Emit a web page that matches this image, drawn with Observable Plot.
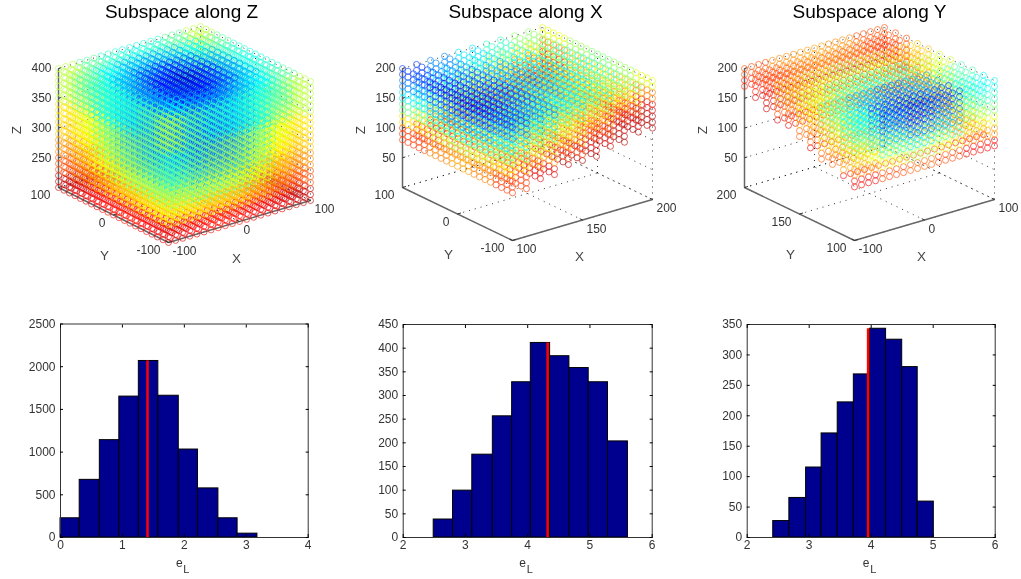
<!DOCTYPE html>
<html>
<head>
<meta charset="utf-8">
<style>
html,body{margin:0;padding:0;background:#fff;width:1021px;height:579px;overflow:hidden}
#page{position:relative;width:1021px;height:579px}
#page svg{position:absolute;display:block;background:transparent;filter:blur(0.35px)}
</style>
<script src="https://cdn.jsdelivr.net/npm/d3@7"></script>
<script src="https://cdn.jsdelivr.net/npm/@observablehq/plot@0.6"></script>
</head>
<body>
<div id="page"></div>
<script>
// ---------- histogram data (bottom row) ----------
const edgesZ = [0,0.31,0.635,0.95,1.265,1.58,1.91,2.22,2.55,2.86,3.18];
const countsZ = [225,675,1140,1650,2067,1660,1030,575,225,45];
const medianZ = 1.405;
const edgesX = [2.49,2.80,3.11,3.44,3.75,4.05,4.36,4.67,4.98,5.29,5.61];
const countsX = [38,99,175,256,328,411,383,358,328,203];
const medianX = 4.32;
const edgesY = [2.42,2.68,2.95,3.2,3.46,3.72,3.98,4.24,4.5,4.75,5.01];
const countsY = [27,65,115,171,222,268,343,325,280,59];
const medianY = 3.95;

// ---------- grid axes of the scatter clouds (top row) ----------
const gridX100 = [-100,-90,-80,-70,-60,-50,-40,-30,-20,-10,0,10,20,30,40,50,60,70,80,90,100];
const gridY100 = gridX100;
const gridZ400 = [400,390,380,370,360,350,340,330,320,310,300,290,280,270,260,250,240,230,220,210,200];
const gridX200 = [100,110,120,130,140,150,160,170,180,190,200];
const gridY200 = gridX200;
const gridZ200 = [200,190,180,170,160,150,140,130,120,110,100,90,80];
// lowest occupied Z level per column, read from the staircases
const floorByX = [80,80,90,90,100,100,100,110,110,120,120];      // panel X, per x
const floorByY = [90,100,110,110,120,130,140,140,150,160,170];   // panel Y, per y

// colour level (0-100 along jet), per block: [layer top→bottom][row][column]
const levelZ = [
 [[56,47,42,40,42,47,56],[47,37,30,27,30,37,47],[42,30,19,14,19,30,42],[40,27,14,6,14,27,40],[42,30,19,14,19,30,42],[47,37,30,27,30,37,47],[56,47,42,40,42,47,56]],
 [[56,48,42,40,42,48,56],[48,38,31,28,31,38,48],[42,31,20,16,20,31,42],[40,28,16,9,16,28,40],[42,31,20,16,20,31,42],[48,38,31,28,31,38,48],[56,48,42,40,42,48,56]],
 [[45,47,50,52,55,60,65],[47,36,28,24,28,36,60],[50,28,16,14,16,28,55],[52,24,14,12,14,24,52],[55,28,16,14,16,28,50],[60,36,28,24,28,36,47],[65,60,55,52,50,47,60]],
 [[47,50,53,55,58,62,67],[50,36,26,24,26,36,62],[53,26,16,14,16,26,58],[55,24,14,14,14,24,55],[58,26,16,14,16,26,53],[62,36,26,24,26,36,50],[67,62,58,55,53,50,62]],
 [[55,57,59,61,63,68,73],[57,42,30,28,30,42,68],[59,30,20,18,20,30,63],[61,28,18,18,18,28,61],[63,30,20,18,20,30,59],[68,42,30,28,30,42,57],[73,68,63,61,59,57,68]],
 [[62,64,67,68,71,75,80],[64,52,40,38,40,52,75],[67,40,32,30,32,40,71],[68,38,30,30,30,38,68],[71,40,32,30,32,40,67],[75,52,40,38,40,52,64],[80,75,71,68,67,64,75]],
 [[90,88,86,86,88,90,93],[88,78,72,70,72,78,90],[86,72,68,68,68,72,88],[86,70,68,68,68,70,86],[88,72,68,68,68,72,86],[90,78,72,70,72,78,88],[93,90,88,86,86,88,90]]
];
const levelX = [
 [[18,26,35,43,52,60],[11,19,28,36,45,53],[8,16,25,33,42,50],[11,19,28,36,45,53],[18,26,35,43,52,60]],
 [[25,35,45,54,65,75],[18,28,38,47,58,68],[15,25,35,44,55,65],[18,28,38,47,58,68],[25,35,45,54,65,75]],
 [[36,46,58,68,80,90],[29,39,48,56,66,74],[26,36,45,54,62,70],[29,39,48,56,66,74],[36,46,58,68,80,90]],
 [[48,58,68,80,92,95],[41,51,58,66,74,82],[38,48,55,62,70,80],[41,51,58,66,74,82],[48,58,68,80,92,95]],
 [[65,72,82,92,95,95],[58,65,70,76,84,92],[55,62,68,74,82,92],[58,65,70,76,84,92],[65,72,82,92,95,95]],
 [[82,90,95,95,95,95],[75,83,91,95,95,95],[72,80,88,92,95,95],[75,83,91,95,95,95],[82,90,95,95,95,95]]
];
const levelY = [
 [[38,17,8,17,38],[45,28,20,28,45],[58,45,40,45,58],[68,59,55,59,68],[80,74,72,74,80]],
 [[42,22,14,22,42],[50,33,25,33,50],[62,49,44,49,62],[72,64,60,64,72],[85,82,80,82,85]],
 [[50,30,22,30,50],[58,42,35,42,58],[70,57,52,57,70],[80,73,70,73,80],[92,92,92,92,92]],
 [[60,43,36,43,60],[66,53,48,53,66],[78,68,64,68,78],[90,87,85,87,90],[95,95,95,95,95]],
 [[72,60,55,60,72],[78,70,66,70,78],[90,84,82,84,90],[95,93,92,93,95],[95,95,95,95,95]],
 [[88,81,78,81,88],[92,87,85,87,92],[95,93,92,93,95],[95,95,95,95,95],[95,95,95,95,95]]
];

const jetStops = [0,12.5,37.5,62.5,87.5,100];
const jetColors = ["#00008f","#0000ff","#00ffff","#ffff00","#ff0000","#800000"];
const FONT = "'Liberation Sans', Arial, sans-serif";
const page = document.getElementById("page");

function place(svg,left,top){svg.style.left=left+"px";svg.style.top=top+"px";svg.style.maxWidth="none";page.appendChild(svg);}

// ---------- 3-D panels ----------
function cloud(o){
  const {left,F,X,Y,title,titleX,xr,yr,zr,xt,yt,zt,pts} = o;
  const px=(a,b)=>F[0]+a*X[0]+b*Y[0];
  const py=(a,b,c)=>F[1]+a*X[1]+b*Y[1]-c*119;
  const nx=v=>(v-xr[0])/(xr[1]-xr[0]), ny=v=>(v-yr[0])/(yr[1]-yr[0]), nz=v=>(v-zr[0])/(zr[1]-zr[0]);
  const seg=(a,b)=>({x1:px(a[0],a[1]),y1:py(...a),x2:px(b[0],b[1]),y2:py(...b)});
  const grid=[];
  for(const z of [zr[0],...zt]){const c=nz(z);grid.push(seg([0,1,c],[1,1,c]),seg([1,1,c],[1,0,c]));}
  for(const x of xt){const a=nx(x);grid.push(seg([a,0,0],[a,1,0]),seg([a,1,0],[a,1,1]));}
  for(const y of yt){const b=ny(y);grid.push(seg([0,b,0],[1,b,0]),seg([1,b,0],[1,b,1]));}
  const axes=[seg([0,0,0],[1,0,0]),seg([0,0,0],[0,1,0]),seg([0,1,0],[0,1,1])];
  const ticks=[...xt.map(x=>seg([nx(x),0,0],[nx(x),0.025,0])),...yt.map(y=>seg([0,ny(y),0],[0.025,ny(y),0])),...zt.map(z=>seg([0,1,nz(z)],[0.02,1,nz(z)]))];
  const data=d3.sort(pts,d=>0.5*nz(d.z)-nx(d.x)-ny(d.y));
  const svg=Plot.plot({
    width:340,height:280,margin:0,
    style:{fontFamily:FONT,background:"transparent"},
    x:{domain:[left,left+340],range:[0,340],axis:null},
    y:{domain:[0,280],range:[0,280],axis:null},
    color:{type:"linear",domain:jetStops,range:jetColors,legend:false},
    marks:[
      Plot.link(grid,{x1:"x1",y1:"y1",x2:"x2",y2:"y2",stroke:"#000",strokeWidth:1,strokeDasharray:"1,5",strokeOpacity:0.8}),
      Plot.link(axes,{x1:"x1",y1:"y1",x2:"x2",y2:"y2",stroke:"#666",strokeWidth:1.5}),
      Plot.link(ticks,{x1:"x1",y1:"y1",x2:"x2",y2:"y2",stroke:"#333",strokeWidth:1}),
      Plot.dot(data,{x:d=>px(nx(d.x),ny(d.y)),y:d=>py(nx(d.x),ny(d.y),nz(d.z)),stroke:"v",r:3,strokeWidth:0.85,strokeOpacity:0.75,fill:"none"}),
      Plot.text(xt,{x:d=>px(nx(d),0),y:d=>py(nx(d),0,0),text:d=>String(d),fontSize:12,fill:"#333",textAnchor:"start",dx:4,dy:9}),
      Plot.text(yt,{x:d=>px(0,ny(d)),y:d=>py(0,ny(d),0),text:d=>String(d),fontSize:12,fill:"#333",textAnchor:"end",dx:-8,dy:8}),
      Plot.text(zt,{x:()=>px(0,1),y:d=>py(0,1,nz(d)),text:d=>String(d),fontSize:12,fill:"#333",textAnchor:"end",dx:-7}),
      Plot.text(["X"],{x:()=>px(0.5,0),y:()=>py(0.5,0,0),text:d=>d,fontSize:13.5,fill:"#444",dx:-3,dy:37}),
      Plot.text(["Y"],{x:()=>px(0,0.5),y:()=>py(0,0.5,0),text:d=>d,fontSize:13.5,fill:"#444",dx:-9,dy:41}),
      Plot.text(["Z"],{x:()=>px(0,1),y:()=>py(0,1,0.5),text:d=>d,fontSize:13.5,fill:"#444",rotate:-90,dx:-42,dy:2}),
      Plot.text([title],{x:()=>titleX,y:()=>11,text:d=>d,fontSize:19,fill:"#000"})
    ]
  });
  place(svg,left,0);
}

const ptsZ=[];
gridX100.forEach((x,i)=>gridY100.forEach((y,j)=>gridZ400.forEach((z,k)=>{
  ptsZ.push({x,y,z,v:levelZ[Math.min(6,Math.floor(k/3))][Math.min(6,Math.floor(j/3))][Math.min(6,Math.floor(i/3))]});
})));
const ptsX=[];
gridX200.forEach((x,i)=>gridY100.forEach((y,j)=>gridZ200.forEach((z,k)=>{
  if(z<floorByX[i])return;
  ptsX.push({x,y,z,v:levelX[Math.min(5,Math.floor(k/2))][Math.min(4,Math.floor(j/4))][Math.min(5,Math.floor(i/2))]});
})));
const ptsY=[];
gridX100.forEach((x,i)=>gridY200.forEach((y,j)=>gridZ200.forEach((z,k)=>{
  if(z<floorByY[j])return;
  ptsY.push({x,y,z,v:levelY[Math.min(5,Math.floor(k/2))][Math.min(4,Math.floor(j/2))][Math.min(4,Math.floor(i/4))]});
})));

cloud({left:0,F:[168,242],X:[142,-42],Y:[-110,-55],title:"Subspace along Z",titleX:181,xr:[-100,100],yr:[-100,100],zr:[200,400],xt:[-100,0,100],yt:[-100,0,100],zt:[250,300,350,400],pts:ptsZ});
cloud({left:340,F:[512,240],X:[140,-41],Y:[-110,-53],title:"Subspace along X",titleX:525,xr:[100,200],yr:[-100,100],zr:[0,200],xt:[100,150,200],yt:[-100,0,100],zt:[50,100,150,200],pts:ptsX});
cloud({left:681,F:[854,240],X:[140,-41],Y:[-110,-53],title:"Subspace along Y",titleX:869,xr:[-100,100],yr:[100,200],zr:[0,200],xt:[-100,0,100],yt:[100,150,200],zt:[50,100,150,200],pts:ptsY});

// ---------- histograms ----------
function hist(o){
  const {left,ml,mr,mt,xd,yd,xt,yt,edges,counts,median,topCount}=o;
  const svg=Plot.plot({
    width:340,height:279,marginLeft:ml,marginRight:mr,marginTop:mt,marginBottom:42,
    style:{fontFamily:FONT,fontSize:"12px",background:"transparent"},
    x:{domain:xd},y:{domain:yd},
    marks:[
      Plot.rectY(counts,{x1:(d,i)=>edges[i],x2:(d,i)=>edges[i+1],y:d=>d,fill:"#00008f",stroke:"#000",strokeWidth:1}),
      Plot.ruleX([median],{y1:0,y2:topCount,stroke:"#ff0000",strokeWidth:2.5}),
      Plot.frame({stroke:"#333",strokeWidth:1}),
      Plot.axisX({ticks:xt,tickFormat:d=>String(d),anchor:"bottom",tickSize:-3,tickPadding:6,label:null,fill:"#333",fontSize:12}),
      Plot.axisX({ticks:xt,tickFormat:()=>"",anchor:"top",tickSize:-3,label:null}),
      Plot.axisY({ticks:yt,tickFormat:d=>String(d),anchor:"left",tickSize:-3,tickPadding:8,label:null,fill:"#333",fontSize:12}),
      Plot.axisY({ticks:yt,tickFormat:()=>"",anchor:"right",tickSize:-3,label:null}),
      Plot.text(["e"],{x:()=>(xd[0]+xd[1])/2,y:()=>yd[0],text:d=>d,fontSize:12,fill:"#333",dx:-5,dy:26}),
      Plot.text(["L"],{x:()=>(xd[0]+xd[1])/2,y:()=>yd[0],text:d=>d,fontSize:11,fill:"#333",dx:2,dy:32})
    ]
  });
  place(svg,left,300);
}
hist({left:0,ml:60,mr:32.3,mt:23.5,xd:[0,4],yd:[0,2500],xt:[0,1,2,3,4],yt:[0,500,1000,1500,2000,2500],edges:edgesZ,counts:countsZ,median:medianZ,topCount:2067});
hist({left:340,ml:62.7,mr:28.3,mt:24,xd:[2,6],yd:[0,450],xt:[2,3,4,5,6],yt:[0,50,100,150,200,250,300,350,400,450],edges:edgesX,counts:countsX,median:medianX,topCount:411});
hist({left:681,ml:65.7,mr:26.3,mt:24,xd:[2,6],yd:[0,350],xt:[2,3,4,5,6],yt:[0,50,100,150,200,250,300,350],edges:edgesY,counts:countsY,median:medianY,topCount:343});
</script>
</body>
</html>
